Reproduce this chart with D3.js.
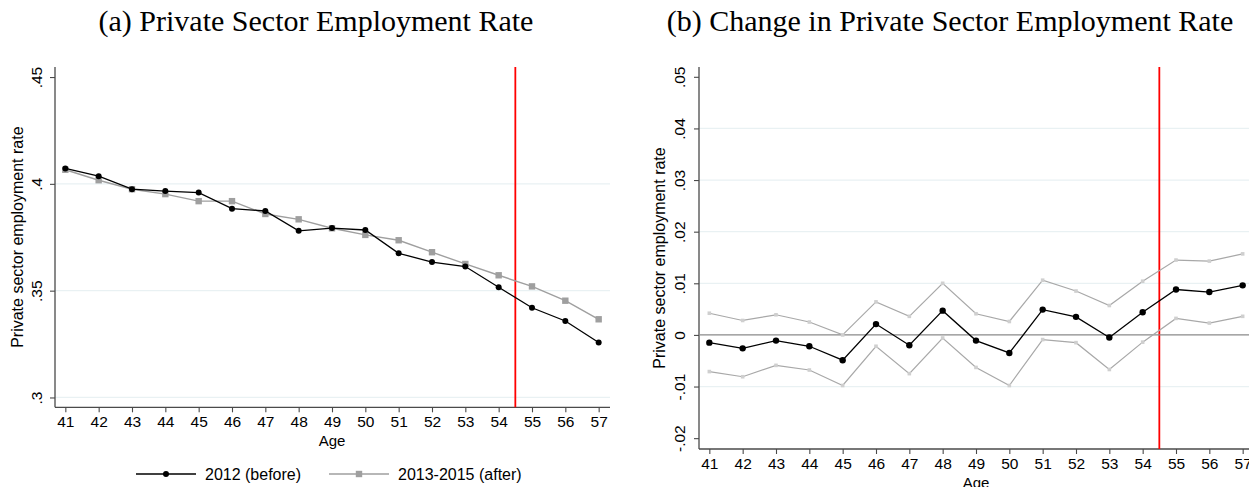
<!DOCTYPE html>
<html>
<head>
<meta charset="utf-8">
<script src="https://cdn.jsdelivr.net/npm/d3@7"></script>
<style>
  html, body { margin: 0; padding: 0; background: #fff; }
  svg { display: block; }
  .tick text { font-family: "Liberation Sans", Arial, sans-serif; }
</style>
</head>
<body>
<svg id="chart" width="1249" height="487"></svg>
<script>
// Ages on the horizontal axis
const ages = [41, 42, 43, 44, 45, 46, 47, 48, 49, 50, 51, 52, 53, 54, 55, 56, 57];

// Panel (a): private sector employment rate by age
const rateBefore = [0.4072, 0.4036, 0.3975, 0.3966, 0.3959, 0.3884, 0.3873, 0.3780, 0.3793,
                    0.3784, 0.3675, 0.3634, 0.3613, 0.3516, 0.3420, 0.3358, 0.3257];
const rateAfter  = [0.4066, 0.4017, 0.3975, 0.3952, 0.3919, 0.3919, 0.3859, 0.3834, 0.3792,
                    0.3761, 0.3736, 0.3680, 0.3625, 0.3572, 0.3520, 0.3453, 0.3366];

// Panel (b): change in the rate with confidence bounds
const change   = [-0.0015, -0.0026, -0.0011, -0.0022, -0.0049, 0.0021, -0.0020, 0.0047, -0.0011,
                  -0.0035, 0.0049, 0.0035, -0.0005, 0.0044, 0.0088, 0.0083, 0.0096];
const ciUpper  = [0.0042, 0.0028, 0.0039, 0.0025, 0.0000, 0.0064, 0.0036, 0.0100, 0.0041,
                  0.0026, 0.0106, 0.0085, 0.0057, 0.0104, 0.0145, 0.0143, 0.0157];
const ciLower  = [-0.0071, -0.0081, -0.0059, -0.0068, -0.0098, -0.0022, -0.0075, -0.0006, -0.0063,
                  -0.0098, -0.0009, -0.0015, -0.0067, -0.0014, 0.0032, 0.0023, 0.0036];

const ticksA = [0.30, 0.35, 0.40, 0.45];
const tickLabelsA = [".3", ".35", ".4", ".45"];
const ticksB = [-0.02, -0.01, 0, 0.01, 0.02, 0.03, 0.04, 0.05];
const tickLabelsB = ["-.02", "-.01", "0", ".01", ".02", ".03", ".04", ".05"];

const titles = ["(a) Private Sector Employment Rate", "(b) Change in Private Sector Employment Rate"];
const yTitle = "Private sector employment rate";
const xTitle = "Age";
const legendLabels = ["2012 (before)", "2013-2015 (after)"];
const cutoff = 54.5;

const svg = d3.select("#chart");
const SANS = "'Liberation Sans', Arial, sans-serif";
const SERIF = "'Liberation Serif', 'Times New Roman', serif";
const GRID = "#e9f1f3";
const AXIS = "#4a4a4a";
const FS = 15.5;

function panel(cfg) {
  const x = d3.scaleLinear().domain([40.69, 57.34]).range([cfg.left, cfg.right]);
  const y = d3.scaleLinear().domain(cfg.yDomain).range([cfg.bottom, cfg.top]);
  const g = svg.append("g");

  // grid lines (the outermost labelled values get none)
  g.selectAll("line.grid").data(cfg.grid).join("line")
    .attr("x1", cfg.left).attr("x2", cfg.right)
    .attr("y1", d => y(d)).attr("y2", d => y(d))
    .attr("stroke", GRID).attr("stroke-width", 1.2);

  // y axis
  const yAxis = d3.axisLeft(y).tickValues(cfg.ticks)
    .tickFormat((d, i) => cfg.tickLabels[i]).tickSize(5).tickPadding(0);
  const ya = g.append("g").attr("transform", `translate(${cfg.left},0)`).call(yAxis);
  ya.select(".domain").attr("stroke", AXIS).attr("stroke-width", 1.3)
    .attr("d", `M0,${cfg.bottom}V${cfg.top}`);
  ya.selectAll(".tick line").attr("stroke", AXIS).attr("stroke-width", 1.1);
  ya.selectAll(".tick text")
    .attr("x", null).attr("dy", null)
    .attr("transform", `translate(${cfg.yLabelX},0) rotate(-90)`)
    .attr("text-anchor", "middle")
    .attr("font-size", FS).attr("fill", "#000");

  // x axis
  const xAxis = d3.axisBottom(x).tickValues(ages).tickFormat(d3.format("d"))
    .tickSize(5).tickPadding(4);
  const xa = g.append("g").attr("transform", `translate(0,${cfg.bottom})`).call(xAxis);
  xa.select(".domain").attr("stroke", AXIS).attr("stroke-width", 1.3)
    .attr("d", `M${cfg.left},0H${cfg.right}`);
  xa.selectAll(".tick line").attr("stroke", AXIS).attr("stroke-width", 1.1);
  xa.selectAll(".tick text").attr("font-size", FS).attr("fill", "#000");

  // axis titles
  g.append("text").attr("x", x(49))
    .attr("y", cfg.bottom + 39).attr("text-anchor", "middle")
    .attr("font-family", SANS).attr("font-size", 15).text(xTitle);
  g.append("text").attr("transform", `translate(${cfg.yTitleX},${(cfg.top + cfg.bottom) / 2}) rotate(-90)`)
    .attr("text-anchor", "middle").attr("font-family", SANS).attr("font-size", 16).text(yTitle);

  // panel title
  g.append("text").attr("x", cfg.titleX).attr("y", 31).attr("text-anchor", "middle")
    .attr("font-family", SERIF).attr("font-size", 30).text(cfg.title);

  // vertical cutoff marker
  g.append("line")
    .attr("x1", x(cutoff)).attr("x2", x(cutoff))
    .attr("y1", cfg.top).attr("y2", cfg.bottom)
    .attr("stroke", "#ff0000").attr("stroke-width", 1.8);

  return { g, x, y };
}

// ---------- Panel (a) ----------
const A = panel({
  left: 55, right: 610, top: 67, bottom: 407.3,
  yDomain: [0.2954, 0.4547], ticks: ticksA, tickLabels: tickLabelsA,
  grid: [0.30, 0.35, 0.40], yLabelX: -13, yTitleX: 23,
  title: titles[0], titleX: 316
});

const lineA = d3.line().x((d, i) => A.x(ages[i])).y(d => A.y(d));
A.g.append("path").datum(rateAfter).attr("d", lineA)
  .attr("fill", "none").attr("stroke", "#9f9f9f").attr("stroke-width", 1.4);
A.g.selectAll("rect.after").data(rateAfter).join("rect")
  .attr("x", (d, i) => A.x(ages[i]) - 3.2).attr("y", d => A.y(d) - 3.2)
  .attr("width", 6.4).attr("height", 6.4).attr("fill", "#9f9f9f");
A.g.append("path").datum(rateBefore).attr("d", lineA)
  .attr("fill", "none").attr("stroke", "#000").attr("stroke-width", 1.3);
A.g.selectAll("circle.before").data(rateBefore).join("circle")
  .attr("cx", (d, i) => A.x(ages[i])).attr("cy", d => A.y(d))
  .attr("r", 3).attr("fill", "#000");

// legend
const leg = svg.append("g").attr("font-family", SANS).attr("font-size", 16);
leg.append("line").attr("x1", 136).attr("x2", 196).attr("y1", 474).attr("y2", 474)
  .attr("stroke", "#000").attr("stroke-width", 1.3);
leg.append("circle").attr("cx", 166).attr("cy", 474).attr("r", 3).attr("fill", "#000");
leg.append("text").attr("x", 205).attr("y", 479.5).text(legendLabels[0]);
leg.append("line").attr("x1", 329).attr("x2", 389).attr("y1", 474).attr("y2", 474)
  .attr("stroke", "#9f9f9f").attr("stroke-width", 1.4);
leg.append("rect").attr("x", 355.8).attr("y", 470.8).attr("width", 6.4).attr("height", 6.4)
  .attr("fill", "#9f9f9f");
leg.append("text").attr("x", 398).attr("y", 479.5).text(legendLabels[1]);

// ---------- Panel (b) ----------
const B = panel({
  left: 699, right: 1254, top: 67, bottom: 449,
  yDomain: [-0.0221, 0.0519], ticks: ticksB, tickLabels: tickLabelsB,
  grid: [-0.01, 0.01, 0.02, 0.03, 0.04], yLabelX: -14, yTitleX: 665,
  title: titles[1], titleX: 950
});

// reference line at zero
B.g.append("line").attr("x1", 699).attr("x2", 1254)
  .attr("y1", B.y(0)).attr("y2", B.y(0))
  .attr("stroke", "#8a8a8a").attr("stroke-width", 1.3);

const lineB = d3.line().x((d, i) => B.x(ages[i])).y(d => B.y(d));
[ciUpper, ciLower].forEach(s => {
  B.g.append("path").datum(s).attr("d", lineB)
    .attr("fill", "none").attr("stroke", "#a8a8a8").attr("stroke-width", 1.2);
  B.g.selectAll(null).data(s).join("rect")
    .attr("x", (d, i) => B.x(ages[i]) - 1.8).attr("y", d => B.y(d) - 1.8)
    .attr("width", 3.6).attr("height", 3.6).attr("fill", "#cfcfcf");
});
B.g.append("path").datum(change).attr("d", lineB)
  .attr("fill", "none").attr("stroke", "#000").attr("stroke-width", 1.3);
B.g.selectAll("circle.chg").data(change).join("circle")
  .attr("cx", (d, i) => B.x(ages[i])).attr("cy", d => B.y(d))
  .attr("r", 3.2).attr("fill", "#000");
</script>
</body>
</html>
